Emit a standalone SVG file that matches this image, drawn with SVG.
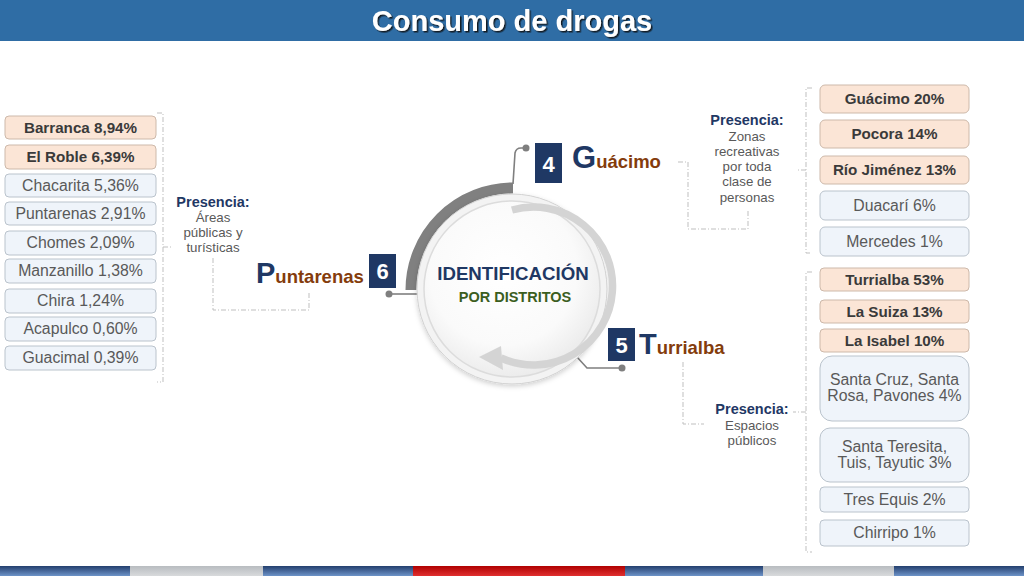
<svg xmlns="http://www.w3.org/2000/svg" width="1024" height="576" viewBox="0 0 1024 576">
<defs>
<style>
.t{font-family:"Liberation Sans",Arial,sans-serif}
.pk{fill:#FBE5D6;stroke:#CDB9AA;stroke-width:1}
.lb{fill:#EFF4FA;stroke:#BAC3CC;stroke-width:1}
.bt{font-family:"Liberation Sans",Arial,sans-serif;font-size:15.2px;font-weight:bold;fill:#3A3A3A;text-anchor:middle}
.nt{font-family:"Liberation Sans",Arial,sans-serif;font-size:15.8px;fill:#595959;text-anchor:middle}
.dash{fill:none;stroke:#BFBFBF;stroke-width:1;stroke-dasharray:5 2 1 2}
.con{fill:none;stroke:#7F7F7F;stroke-width:1.6}
.dot{fill:#7F7F7F}
.num{fill:#1F3864}
.numt{font-family:"Liberation Sans",Arial,sans-serif;font-size:22px;font-weight:bold;fill:#FFFFFF;text-anchor:middle}
.big{font-family:"Liberation Sans",Arial,sans-serif;font-weight:bold;fill:#1F3864}
.brn{fill:#843C0C;font-size:18.5px}
.pr{font-family:"Liberation Sans",Arial,sans-serif;font-size:14.5px;font-weight:bold;fill:#1F3864;text-anchor:middle}
.ps{font-family:"Liberation Sans",Arial,sans-serif;font-size:13.3px;fill:#595959;text-anchor:middle}
</style>
<filter id="sh" x="-10%" y="-30%" width="120%" height="160%">
<feDropShadow dx="1.5" dy="1.5" stdDeviation="0.6" flood-color="#111" flood-opacity="0.85"/>
</filter>
<filter id="csh" x="-20%" y="-20%" width="140%" height="140%">
<feDropShadow dx="0" dy="2" stdDeviation="2.5" flood-color="#000" flood-opacity="0.18"/>
</filter>
<radialGradient id="inner" cx="0.45" cy="0.4" r="0.6">
<stop offset="0" stop-color="#FFFFFF"/>
<stop offset="0.7" stop-color="#FAFAFA"/>
<stop offset="1" stop-color="#ECECEC"/>
</radialGradient>
<linearGradient id="bb" x1="0" y1="0" x2="0" y2="1">
<stop offset="0" stop-color="#233F6E"/>
<stop offset="1" stop-color="#6D93C8"/>
</linearGradient>
<linearGradient id="bg" x1="0" y1="0" x2="0" y2="1">
<stop offset="0" stop-color="#B8BCC0"/>
<stop offset="1" stop-color="#D8DADC"/>
</linearGradient>
<linearGradient id="br" x1="0" y1="0" x2="0" y2="1">
<stop offset="0" stop-color="#B00000"/>
<stop offset="1" stop-color="#E03030"/>
</linearGradient>
</defs>

<rect width="1024" height="576" fill="#FFFFFF"/>

<g id="title">
<rect x="0" y="0" width="1024" height="41" fill="#2F6DA5"/>
<text x="512" y="31" class="t" font-size="29" font-weight="bold" fill="#FFFFFF" text-anchor="middle" filter="url(#sh)">Consumo de drogas</text>
</g>

<g id="footer">
<rect x="0" y="566" width="130" height="10" fill="url(#bb)"/>
<rect x="130" y="566" width="133" height="10" fill="url(#bg)"/>
<rect x="263" y="566" width="150" height="10" fill="url(#bb)"/>
<rect x="413" y="566" width="212" height="10" fill="url(#br)"/>
<rect x="625" y="566" width="138" height="10" fill="url(#bb)"/>
<rect x="763" y="566" width="131" height="10" fill="url(#bg)"/>
<rect x="894" y="566" width="130" height="10" fill="url(#bb)"/>
</g>

<g id="connectors">
<path class="con" d="M513,184 L515,153 Q516,148 521,148 L526,148"/>
<circle class="dot" cx="526" cy="148" r="3.5"/>
<path class="con" d="M389,294 L418,294"/>
<circle class="dot" cx="389" cy="294" r="3.5"/>
<path class="con" d="M577,357 L587,368 L622,368"/>
<circle class="dot" cx="622" cy="368" r="3.5"/>
<path class="dash" d="M213,258 V310 H309 V292"/>
<path class="dash" d="M678,162 H688 V229 H748 V209"/>
<path class="dash" d="M683,362 V424 H704"/>
<path class="dash" d="M157,113 H163 V382 H157 M163,247 H173"/>
<path class="dash" d="M812,88 H806 V253 H812 M806,170 H797"/>
<path class="dash" d="M812,272 H806 V552 H812 M806,412 H793"/>
</g>

<g id="center">
<path d="M513,188 A102,102 0 0,0 411,290" fill="none" stroke="#808080" stroke-width="11"/>
<circle cx="512" cy="289" r="95" fill="#F3F3F3" stroke="#D2D2D2" stroke-width="1" filter="url(#csh)"/>
<circle cx="512" cy="289" r="88" fill="url(#inner)" stroke="#DCDCDC" stroke-width="1.5"/>
<path d="M512,210 A79,79 0 1,1 501,358" fill="none" stroke="#D4D4D4" stroke-width="7.5"/>
<polygon points="479,357 501,346 503,370" fill="#D4D4D4"/>
<text x="513" y="280" class="t" font-size="18.7" font-weight="bold" fill="#1F3864" text-anchor="middle">IDENTIFICACIÓN</text>
<text x="515" y="302" class="t" font-size="14.5" font-weight="bold" fill="#3B5E1E" text-anchor="middle">POR DISTRITOS</text>
</g>

<g id="node-guacimo">
<rect class="num" x="535" y="143" width="27" height="40"/>
<text class="numt" x="548.5" y="172">4</text>
<text class="big" x="572" y="168" font-size="31">G<tspan class="brn" font-size="18.8px">uácimo</tspan></text>
</g>

<g id="node-puntarenas">
<rect class="num" x="369" y="254" width="27" height="34"/>
<text class="numt" x="382.5" y="279">6</text>
<text class="big" x="256" y="283" font-size="29">P<tspan class="brn" font-size="18.2px">untarenas</tspan></text>
</g>

<g id="node-turrialba">
<rect class="num" x="608" y="328" width="27" height="33"/>
<text class="numt" x="621.5" y="353">5</text>
<text class="big" x="639" y="354" font-size="29">T<tspan class="brn">urrialba</tspan></text>
</g>

<g id="presencia-puntarenas">
<text class="pr" x="213" y="207">Presencia:</text>
<text class="ps" x="213" y="222">Áreas</text>
<text class="ps" x="213" y="237">públicas y</text>
<text class="ps" x="213" y="252">turísticas</text>
</g>

<g id="presencia-guacimo">
<text class="pr" x="747" y="125">Presencia:</text>
<text class="ps" x="747" y="141">Zonas</text>
<text class="ps" x="747" y="156">recreativas</text>
<text class="ps" x="747" y="171">por toda</text>
<text class="ps" x="747" y="186">clase de</text>
<text class="ps" x="747" y="202">personas</text>
</g>

<g id="presencia-turrialba">
<text class="pr" x="752" y="414">Presencia:</text>
<text class="ps" x="752" y="430">Espacios</text>
<text class="ps" x="752" y="445">públicos</text>
</g>

<g id="list-puntarenas">
<g id="d-barranca"><rect class="pk" x="5" y="116" width="151" height="23" rx="4"/><text class="bt" x="80.5" y="133">Barranca 8,94%</text></g>
<g id="d-elroble"><rect class="pk" x="5" y="145" width="151" height="24" rx="4"/><text class="bt" x="80.5" y="162">El Roble 6,39%</text></g>
<g id="d-chacarita"><rect class="lb" x="5" y="174" width="151" height="23" rx="4"/><text class="nt" x="80.5" y="191">Chacarita 5,36%</text></g>
<g id="d-puntarenas"><rect class="lb" x="5" y="202" width="151" height="23" rx="4"/><text class="nt" x="80.5" y="219">Puntarenas 2,91%</text></g>
<g id="d-chomes"><rect class="lb" x="5" y="231" width="151" height="24" rx="4"/><text class="nt" x="80.5" y="248">Chomes 2,09%</text></g>
<g id="d-manzanillo"><rect class="lb" x="5" y="259" width="151" height="24" rx="4"/><text class="nt" x="80.5" y="276">Manzanillo 1,38%</text></g>
<g id="d-chira"><rect class="lb" x="5" y="289" width="151" height="24" rx="4"/><text class="nt" x="80.5" y="306">Chira 1,24%</text></g>
<g id="d-acapulco"><rect class="lb" x="5" y="317" width="151" height="24" rx="4"/><text class="nt" x="80.5" y="334">Acapulco 0,60%</text></g>
<g id="d-guacimal"><rect class="lb" x="5" y="346" width="151" height="24" rx="4"/><text class="nt" x="80.5" y="363">Guacimal 0,39%</text></g>
</g>

<g id="list-guacimo">
<g id="d-guacimo"><rect class="pk" x="820" y="85" width="149" height="28" rx="5"/><text class="bt" x="894.5" y="104">Guácimo 20%</text></g>
<g id="d-pocora"><rect class="pk" x="820" y="120" width="149" height="28" rx="5"/><text class="bt" x="894.5" y="139">Pocora 14%</text></g>
<g id="d-riojimenez"><rect class="pk" x="820" y="156" width="149" height="28" rx="5"/><text class="bt" x="894.5" y="175">Río Jiménez 13%</text></g>
<g id="d-duacari"><rect class="lb" x="820" y="191" width="149" height="29" rx="5"/><text class="nt" x="894.5" y="211">Duacarí 6%</text></g>
<g id="d-mercedes"><rect class="lb" x="820" y="227" width="149" height="29" rx="5"/><text class="nt" x="894.5" y="247">Mercedes 1%</text></g>
</g>

<g id="list-turrialba">
<g id="d-turrialba"><rect class="pk" x="820" y="268" width="149" height="23" rx="4"/><text class="bt" x="894.5" y="285">Turrialba 53%</text></g>
<g id="d-lasuiza"><rect class="pk" x="820" y="300" width="149" height="23" rx="4"/><text class="bt" x="894.5" y="317">La Suiza 13%</text></g>
<g id="d-laisabel"><rect class="pk" x="820" y="329" width="149" height="23" rx="4"/><text class="bt" x="894.5" y="346">La Isabel 10%</text></g>
<g id="d-santacruz"><rect class="lb" x="820" y="356" width="149" height="65" rx="12"/><text class="nt" x="894.5" y="385">Santa Cruz, Santa</text><text class="nt" x="894.5" y="401">Rosa, Pavones 4%</text></g>
<g id="d-santateresita"><rect class="lb" x="820" y="428" width="149" height="54" rx="10"/><text class="nt" x="894.5" y="452">Santa Teresita,</text><text class="nt" x="894.5" y="468">Tuis, Tayutic 3%</text></g>
<g id="d-tresequis"><rect class="lb" x="820" y="487" width="149" height="25" rx="4"/><text class="nt" x="894.5" y="505">Tres Equis 2%</text></g>
<g id="d-chirripo"><rect class="lb" x="820" y="520" width="149" height="26" rx="4"/><text class="nt" x="894.5" y="538">Chirripo 1%</text></g>
</g>
</svg>
